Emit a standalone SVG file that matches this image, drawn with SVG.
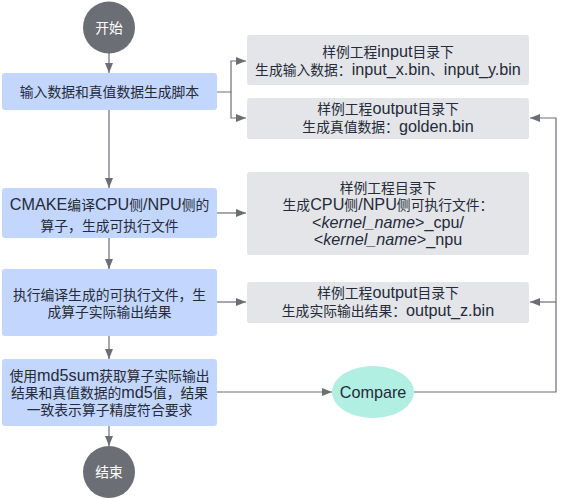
<svg xmlns="http://www.w3.org/2000/svg" width="561" height="499" viewBox="0 0 561 499">
<defs>
<marker id="ah" viewBox="0 0 10 10" refX="10" refY="5" markerWidth="10" markerHeight="10" markerUnits="userSpaceOnUse" orient="auto">
<path d="M0,1 L10,5 L0,9 Z" fill="#6b6e75"/>
</marker>
<style>
text{font-family:"Liberation Sans","Noto Sans CJK SC",sans-serif;font-size:13.8px;fill:#252b3a;text-anchor:middle}
.l{font-size:16.2px}
.blue{fill:#c3d6fd}
.gray{fill:#e4e5e8}
.dark{fill:#6b6e75}
.wt{fill:#ffffff}
.ln{fill:none;stroke:#6b6e75;stroke-width:1.2}
</style>
</defs>
<g id="connectors">
<path class="ln" d="M109,53 V73" marker-end="url(#ah)"/>
<path class="ln" d="M109,110 V188" marker-end="url(#ah)"/>
<path class="ln" d="M109,238 V269" marker-end="url(#ah)"/>
<path class="ln" d="M109,336 V359" marker-end="url(#ah)"/>
<path class="ln" d="M109,426 V446" marker-end="url(#ah)"/>
<path class="ln" d="M217,92 H231 V61 H246" marker-end="url(#ah)"/>
<path class="ln" d="M231,92 V118 H246" marker-end="url(#ah)"/>
<path class="ln" d="M217,213 H246" marker-end="url(#ah)"/>
<path class="ln" d="M217,302 H246" marker-end="url(#ah)"/>
<path class="ln" d="M217,392 H332" marker-end="url(#ah)"/>
<path class="ln" d="M414,392 H556 V118 H530" marker-end="url(#ah)"/>
<path class="ln" d="M556,302 H530" marker-end="url(#ah)"/>
</g>
<g id="start">
<circle class="dark" cx="109" cy="27.5" r="26"/>
<text class="wt" x="109" y="32.5">开始</text>
</g>
<g id="step1">
<rect class="blue" x="2" y="73" width="215" height="37" rx="3"/>
<text x="109.5" y="96.5">输入数据和真值数据生成脚本</text>
</g>
<g id="step2">
<rect class="blue" x="2" y="188" width="215" height="50" rx="3"/>
<text x="109.5" y="210"><tspan class="l">CMAKE</tspan>编译<tspan class="l">CPU</tspan>侧<tspan class="l">/NPU</tspan>侧的</text>
<text x="109.5" y="231">算子，生成可执行文件</text>
</g>
<g id="step3">
<rect class="blue" x="2" y="269" width="215" height="67" rx="3"/>
<text x="109.5" y="300">执行编译生成的可执行文件，生</text>
<text x="109.5" y="317">成算子实际输出结果</text>
</g>
<g id="step4">
<rect class="blue" x="2" y="359" width="215" height="67" rx="3"/>
<text x="109.5" y="381">使用<tspan class="l">md5sum</tspan>获取算子实际输出</text>
<text x="109.5" y="398">结果和真值数据的<tspan class="l">md5</tspan>值，结果</text>
<text x="109.5" y="415">一致表示算子精度符合要求</text>
</g>
<g id="end">
<circle class="dark" cx="109" cy="472" r="26"/>
<text class="wt" x="109" y="477">结束</text>
</g>
<g id="input">
<rect class="gray" x="247" y="35" width="282" height="50" rx="3"/>
<text x="388" y="57">样例工程<tspan class="l">input</tspan>目录下</text>
<text x="388" y="75">生成输入数据：<tspan class="l">input_x.bin</tspan>、<tspan class="l">input_y.bin</tspan></text>
</g>
<g id="golden">
<rect class="gray" x="247" y="98" width="282" height="41" rx="3"/>
<text x="388" y="114">样例工程<tspan class="l">output</tspan>目录下</text>
<text x="388" y="132">生成真值数据：<tspan class="l">golden.bin</tspan></text>
</g>
<g id="exe">
<rect class="gray" x="247" y="172" width="282" height="83" rx="3"/>
<text x="388" y="193">样例工程目录下</text>
<text x="388" y="210">生成<tspan class="l">CPU</tspan>侧<tspan class="l">/NPU</tspan>侧可执行文件：</text>
<text x="388" y="228" class="l">&lt;<tspan font-style="italic">kernel_name</tspan>&gt;_cpu/</text>
<text x="388" y="245" class="l">&lt;<tspan font-style="italic">kernel_name</tspan>&gt;_npu</text>
</g>
<g id="output">
<rect class="gray" x="247" y="282" width="282" height="41" rx="3"/>
<text x="388" y="298">样例工程<tspan class="l">output</tspan>目录下</text>
<text x="388" y="316">生成实际输出结果：<tspan class="l">output_z.bin</tspan></text>
</g>
<g id="compare">
<ellipse cx="373" cy="392" rx="41" ry="26" fill="#b0efe1"/>
<text x="373" y="398" class="l">Compare</text>
</g>
</svg>
